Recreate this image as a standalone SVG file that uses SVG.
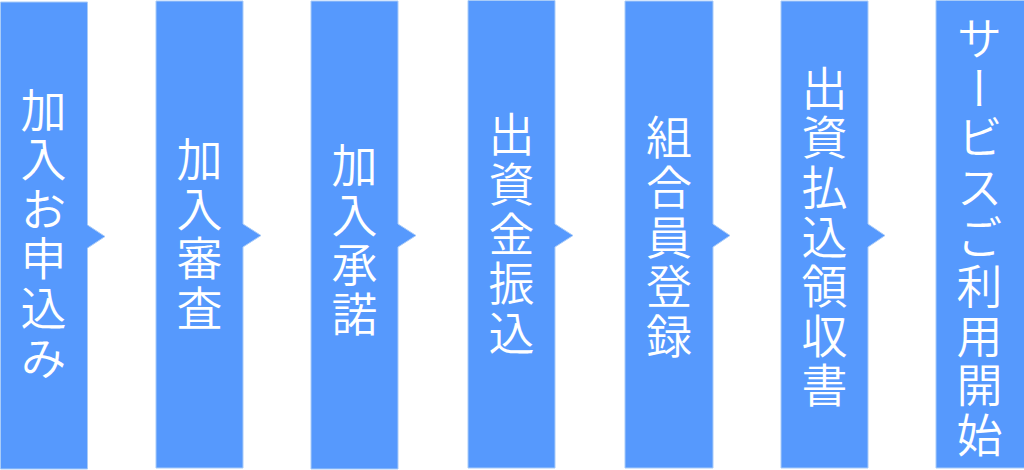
<svg xmlns="http://www.w3.org/2000/svg" width="1024" height="470" viewBox="0 0 1024 470">
<style>
.box{fill:#5699fd;stroke:#a9ccf8;stroke-width:1}
.lbl{fill:#ffffff;font-family:"Noto Sans CJK JP","Noto Sans CJK SC",sans-serif;font-size:46px;font-weight:350;writing-mode:vertical-rl;text-anchor:middle;letter-spacing:3.6px}
</style>
<rect width="1024" height="470" fill="#ffffff"/>
<g id="connectors"></g>
<g id="step1"><path class="box" d="M0.5,2 H87.5 V225 L105,236.5 L87.5,248 V469 H0.5 Z"/><text class="lbl" x="43.5" y="235">加入お申込み</text></g>
<g id="step2"><path class="box" d="M156,1 H243 V224 L261,235.5 L243,247 V468 H156 Z"/><text class="lbl" x="199.5" y="235">加入審査</text></g>
<g id="step3"><path class="box" d="M311,1 H398 V224 L416,235.5 L398,247 V469 H311 Z"/><text class="lbl" x="354.5" y="241">加入承諾</text></g>
<g id="step4"><path class="box" d="M468,0.5 H555 V224 L573,235.5 L555,247 V468 H468 Z"/><text class="lbl" x="511.5" y="235">出資金振込</text></g>
<g id="step5"><path class="box" d="M625,1 H713 V224 L730,235.5 L713,247 V468 H625 Z"/><text class="lbl" x="669" y="238">組合員登録</text></g>
<g id="step6"><path class="box" d="M781,1 H868 V224 L885,235.5 L868,247 V468 H781 Z"/><text class="lbl" x="824.5" y="238">出資払込領収書</text></g>
<g id="step7"><path class="box" d="M936,0.5 H1030 V468 H936 Z"/><text class="lbl" x="979.5" y="238">サービスご利用開始</text></g>
</svg>
